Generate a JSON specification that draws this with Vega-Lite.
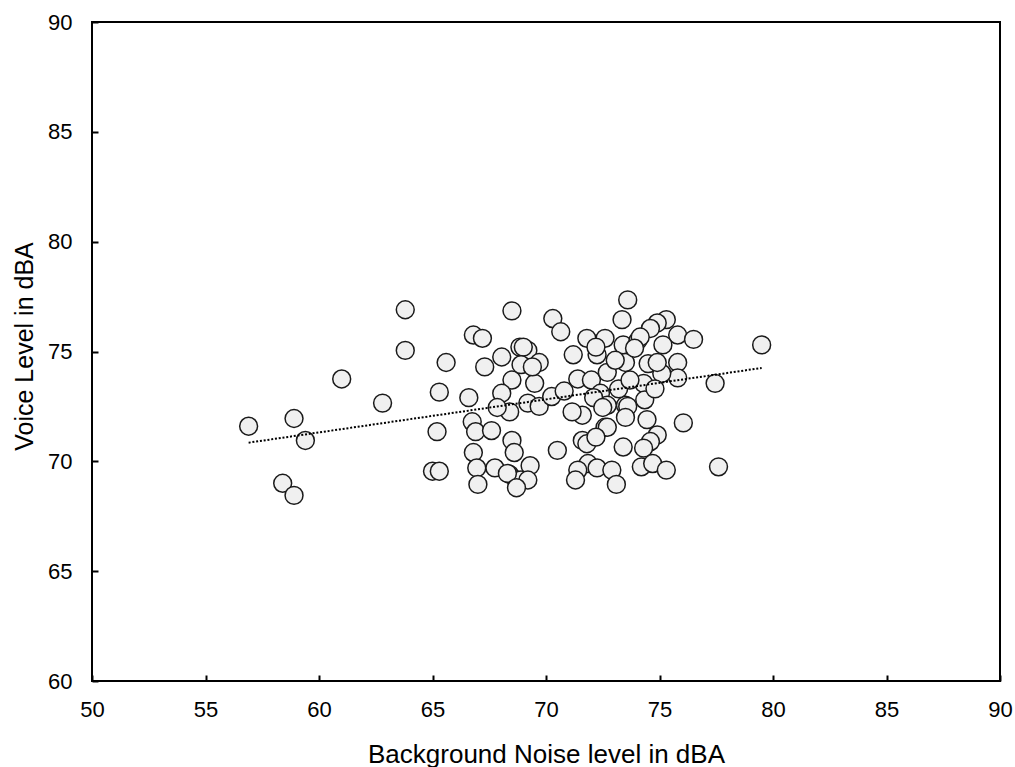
{
  "$schema": "https://vega.github.io/schema/vega-lite/v6.json",
  "width": 908,
  "height": 659,
  "autosize": "none",
  "padding": {"left": 92, "top": 22, "right": 15, "bottom": 86},
  "background": "white",
  "config": {
    "view": {"stroke": "black", "strokeWidth": 2},
    "axis": {
      "grid": false,
      "domain": false,
      "ticks": true,
      "offset": -6,
      "tickColor": "black",
      "tickWidth": 2,
      "tickSize": 6,
      "tickOpacity": 1,
      "labelFont": "Liberation Sans",
      "labelFontSize": 22,
      "labelColor": "black",
      "titleFont": "Liberation Sans",
      "titleFontWeight": "normal",
      "titleColor": "black",
      "labelFlush": false,
      "labelOverlap": false,
      "labelBound": false,
      "zindex": 1
    }
  },
  "datasets": {
    "points": [
      {"noise": 56.9, "voice": 71.6}, {"noise": 58.4, "voice": 69.0}, {"noise": 58.9, "voice": 68.45},
      {"noise": 58.9, "voice": 71.95}, {"noise": 59.4, "voice": 70.95}, {"noise": 61.0, "voice": 73.75},
      {"noise": 62.8, "voice": 72.65}, {"noise": 63.8, "voice": 76.9}, {"noise": 63.8, "voice": 75.05},
      {"noise": 65.6, "voice": 74.5}, {"noise": 65.3, "voice": 73.15}, {"noise": 65.2, "voice": 71.35},
      {"noise": 65.0, "voice": 69.55}, {"noise": 65.3, "voice": 69.55}, {"noise": 66.8, "voice": 75.75},
      {"noise": 67.2, "voice": 75.6}, {"noise": 68.5, "voice": 76.85}, {"noise": 70.3, "voice": 76.5},
      {"noise": 70.65, "voice": 75.9}, {"noise": 73.6, "voice": 77.35}, {"noise": 73.35, "voice": 76.45},
      {"noise": 66.6, "voice": 72.9}, {"noise": 67.3, "voice": 74.3}, {"noise": 68.05, "voice": 74.75},
      {"noise": 68.85, "voice": 75.2}, {"noise": 69.2, "voice": 75.05}, {"noise": 69.7, "voice": 74.5},
      {"noise": 68.5, "voice": 73.7}, {"noise": 69.5, "voice": 73.55}, {"noise": 68.05, "voice": 73.1},
      {"noise": 69.2, "voice": 72.65}, {"noise": 68.4, "voice": 72.25}, {"noise": 69.7, "voice": 72.5},
      {"noise": 70.25, "voice": 72.95}, {"noise": 66.75, "voice": 71.8}, {"noise": 66.9, "voice": 71.35},
      {"noise": 67.6, "voice": 71.4}, {"noise": 68.5, "voice": 70.95}, {"noise": 68.6, "voice": 70.4},
      {"noise": 66.8, "voice": 70.4}, {"noise": 66.95, "voice": 69.7}, {"noise": 67.75, "voice": 69.7},
      {"noise": 68.4, "voice": 69.4}, {"noise": 69.3, "voice": 69.8}, {"noise": 67.0, "voice": 68.95},
      {"noise": 68.7, "voice": 69.15}, {"noise": 68.9, "voice": 69.15}, {"noise": 70.5, "voice": 70.5},
      {"noise": 71.2, "voice": 74.85}, {"noise": 71.4, "voice": 73.75}, {"noise": 71.6, "voice": 72.1},
      {"noise": 71.15, "voice": 72.25}, {"noise": 71.8, "voice": 75.6}, {"noise": 72.25, "voice": 74.85},
      {"noise": 72.0, "voice": 73.7}, {"noise": 72.6, "voice": 75.6}, {"noise": 72.2, "voice": 75.2},
      {"noise": 73.4, "voice": 75.3}, {"noise": 73.5, "voice": 74.5}, {"noise": 72.7, "voice": 74.05},
      {"noise": 72.4, "voice": 73.1}, {"noise": 72.1, "voice": 72.9}, {"noise": 73.5, "voice": 72.55},
      {"noise": 72.6, "voice": 71.55}, {"noise": 71.6, "voice": 70.95}, {"noise": 71.8, "voice": 70.8},
      {"noise": 71.85, "voice": 69.9}, {"noise": 71.4, "voice": 69.6}, {"noise": 71.3, "voice": 69.15},
      {"noise": 72.25, "voice": 69.7}, {"noise": 72.9, "voice": 69.6}, {"noise": 73.1, "voice": 68.95},
      {"noise": 73.4, "voice": 70.65}, {"noise": 75.3, "voice": 76.45}, {"noise": 74.9, "voice": 76.3},
      {"noise": 74.6, "voice": 76.05}, {"noise": 75.8, "voice": 75.75}, {"noise": 76.5, "voice": 75.55},
      {"noise": 75.15, "voice": 75.3}, {"noise": 74.05, "voice": 75.5}, {"noise": 75.8, "voice": 74.5},
      {"noise": 74.5, "voice": 74.45}, {"noise": 75.8, "voice": 73.8}, {"noise": 75.1, "voice": 74.0},
      {"noise": 74.3, "voice": 73.55}, {"noise": 77.45, "voice": 73.55}, {"noise": 73.6, "voice": 72.5},
      {"noise": 74.35, "voice": 72.8}, {"noise": 72.7, "voice": 72.55}, {"noise": 74.45, "voice": 71.9},
      {"noise": 76.05, "voice": 71.75}, {"noise": 73.5, "voice": 72.0}, {"noise": 72.7, "voice": 71.55},
      {"noise": 74.9, "voice": 71.2}, {"noise": 74.6, "voice": 70.9}, {"noise": 74.3, "voice": 70.6},
      {"noise": 74.2, "voice": 69.75}, {"noise": 74.7, "voice": 69.9}, {"noise": 75.3, "voice": 69.6},
      {"noise": 77.6, "voice": 69.75}, {"noise": 79.5, "voice": 75.3}, {"noise": 69.0, "voice": 75.2},
      {"noise": 68.9, "voice": 74.4}, {"noise": 67.85, "voice": 72.45}, {"noise": 68.3, "voice": 69.45},
      {"noise": 69.2, "voice": 69.15}, {"noise": 68.7, "voice": 68.8}, {"noise": 74.8, "voice": 73.3},
      {"noise": 73.2, "voice": 73.3}, {"noise": 70.8, "voice": 73.2}, {"noise": 69.4, "voice": 74.3},
      {"noise": 74.15, "voice": 75.66}, {"noise": 73.9, "voice": 75.15}, {"noise": 73.05, "voice": 74.6},
      {"noise": 74.9, "voice": 74.5}, {"noise": 73.7, "voice": 73.7}, {"noise": 72.5, "voice": 72.45},
      {"noise": 72.2, "voice": 71.1}
    ],
    "trend": [
      {"noise": 56.9, "voice": 70.85},
      {"noise": 79.5, "voice": 74.25}
    ]
  },
  "layer": [
    {
      "data": {"name": "points"},
      "mark": {"type": "point", "shape": "circle", "filled": true, "size": 320, "fill": "#f0f0f0", "stroke": "#1a1a1a", "strokeWidth": 1.5, "opacity": 1},
      "encoding": {
        "x": {
          "field": "noise", "type": "quantitative",
          "scale": {"domain": [50, 90], "nice": false, "zero": false},
          "axis": {
            "values": [50, 55, 60, 65, 70, 75, 80, 85, 90],
            "title": "Background Noise level in dBA",
            "titleFontSize": 26,
            "labelBaseline": "alphabetic",
            "labelPadding": 35.7,
            "titleBaseline": "alphabetic",
            "titleY": 87,
            "titleX": 454,
            "titleAlign": "center"
          }
        },
        "y": {
          "field": "voice", "type": "quantitative",
          "scale": {"domain": [60, 90], "nice": false, "zero": false},
          "axis": {
            "values": [60, 65, 70, 75, 80, 85, 90],
            "title": "Voice Level in dBA",
            "titleFontSize": 25,
            "labelPadding": 20,
            "titleAngle": -90,
            "titleBaseline": "alphabetic",
            "titleX": -66,
            "titleY": 324,
            "titleAlign": "center"
          }
        }
      }
    },
    {
      "data": {"name": "trend"},
      "mark": {"type": "line", "color": "black", "strokeWidth": 2, "strokeDash": [2, 1.8]},
      "encoding": {
        "x": {"field": "noise", "type": "quantitative"},
        "y": {"field": "voice", "type": "quantitative"}
      }
    }
  ]
}
